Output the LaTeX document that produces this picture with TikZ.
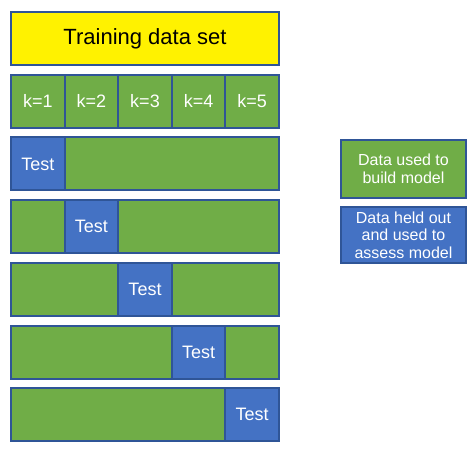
\documentclass[tikz,border=0pt]{standalone}
\usepackage{fontspec}
\setmainfont{Liberation Sans}
\usetikzlibrary{positioning}

\definecolor{fold}{HTML}{70AD47}
\definecolor{test}{HTML}{4472C4}
\definecolor{edge}{HTML}{2F5597}

\begin{document}
\begin{tikzpicture}[x=1pt, y=-1pt,
        cell/.style={draw=edge, line width=2pt, inner sep=0pt, minimum height=53pt,
            text=white, font=\fontsize{18}{21}\selectfont},
        trainbar/.style={cell, fill=fold, minimum width=268pt, anchor=north west},
        fold/.style={cell, fill=fold, minimum width=53.6pt, anchor=north west},
        testcell/.style={cell, fill=test, minimum width=53.6pt, anchor=north west},
        key/.style={draw=edge, line width=2pt, inner sep=0pt, minimum width=125pt,
            text=white, align=center, font=\fontsize{16}{17.5}\selectfont, anchor=north west}]
        \useasboundingbox (0, 0) rectangle (475, 453);

        % whole data set
        \node[cell, fill=yellow, text=black, minimum width=268pt, anchor=north west,
            font=\fontsize{22}{26}\selectfont] (dataset) at (10, 11) {Training data set};

        % the five folds
        \foreach \k in {1,...,5}
            \node[fold] (k\k) at ({10 + 53.6*(\k-1)}, 73.7) {k=\k};

        % one row per fold, test block moving right
        \foreach \k in {1,...,5} {
            \node[trainbar] (row\k) at (10, {73.7 + 62.7*\k}) {};
            \node[testcell] (test\k) at ({10 + 53.6*(\k-1)}, {73.7 + 62.7*\k}) {Test};
        }

        % legend
        \node[key, fill=fold, minimum height=58pt] (build) at (340, 139) {Data used to\\build model};
        \node[key, fill=test, minimum height=56pt] (assess) at (340, 206) {Data held out\\and used to\\assess model};
    \end{tikzpicture}
\end{document}
